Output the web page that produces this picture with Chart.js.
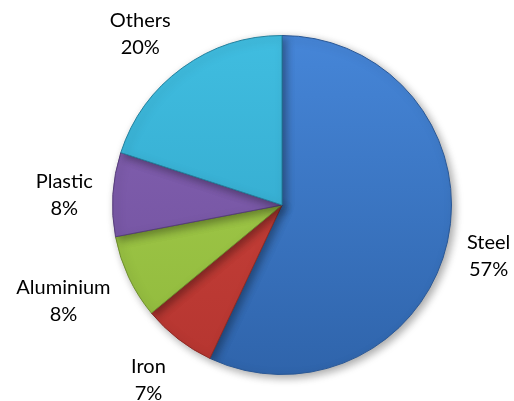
<!DOCTYPE html>
<html>
<head>
<meta charset="utf-8">
<script src="https://cdn.jsdelivr.net/npm/chart.js@4/dist/chart.umd.min.js"></script>
<style>
html,body{margin:0;padding:0;background:#fff;}
#wrap{width:514px;height:401px;}
</style>
</head>
<body>
<div id="wrap"><canvas id="c" width="514" height="401"></canvas></div>
<script>
const categories = ["Steel", "Iron", "Aluminium", "Plastic", "Others"];
const values = [57, 7, 8, 8, 20];
const topColors = ["#4686d8", "#cf463d", "#a8d04e", "#8563b3", "#40bde0"];
const bottomColors = ["#2f64ab", "#b53530", "#8fb83c", "#6f4f9c", "#2fa2c6"];
const edgeColors = ["#2a5896", "#8f2a25", "#6f8f2e", "#563d7a", "#23819e"];

function grad(ctx) {
  const chart = ctx.chart;
  const area = chart.chartArea;
  if (!area) return topColors[ctx.dataIndex];
  const g = chart.ctx.createLinearGradient(0, area.top, 0, area.bottom);
  g.addColorStop(0, topColors[ctx.dataIndex]);
  g.addColorStop(1, bottomColors[ctx.dataIndex]);
  return g;
}

const shadowPlugin = {
  id: 'shadow',
  beforeDatasetsDraw(chart) {
    const c = chart.ctx;
    c.save();
    c.shadowColor = 'rgba(0,0,0,0.35)';
    c.shadowBlur = 8;
    c.shadowOffsetX = 3;
    c.shadowOffsetY = 3;
  },
  afterDatasetsDraw(chart) {
    chart.ctx.restore();
  }
};

const labelPlugin = {
  id: 'outLabels',
  afterDraw(chart) {
    const c = chart.ctx;
    const meta = chart.getDatasetMeta(0);
    const total = values.reduce((a, b) => a + b, 0);
    c.save();
    c.font = '20px Lato';
    c.fillStyle = '#000';
    c.textAlign = 'center';
    c.textBaseline = 'middle';
    const lineH = 27;
    meta.data.forEach((arc, i) => {
      const p = arc.getProps(['x', 'y', 'startAngle', 'endAngle', 'outerRadius']);
      const mid = (p.startAngle + p.endAngle) / 2;
      const cos = Math.cos(mid), sin = Math.sin(mid);
      const r = p.outerRadius + 20;
      const line1 = categories[i];
      const line2 = Math.round(values[i] / total * 100) + '%';
      const w = Math.max(c.measureText(line1).width, c.measureText(line2).width);
      const h = lineH * 2;
      const cx = p.x + cos * r + Math.sign(cos) * w / 2;
      const cy = p.y + sin * r + sin * h / 2 + 4;
      c.fillText(line1, cx, cy - lineH / 2);
      c.fillText(line2, cx, cy + lineH / 2);
    });
    c.restore();
  }
};

new Chart(document.getElementById('c'), {
  type: 'pie',
  data: {
    labels: categories,
    datasets: [{
      data: values,
      backgroundColor: grad,
      borderColor: edgeColors,
      borderWidth: 1
    }]
  },
  options: {
    responsive: false,
    animation: false,
    layout: { padding: { left: 112, right: 62, top: 35, bottom: 26 } },
    plugins: { legend: { display: false }, tooltip: { enabled: false } }
  },
  plugins: [shadowPlugin, labelPlugin]
});
</script>
</body>
</html>
